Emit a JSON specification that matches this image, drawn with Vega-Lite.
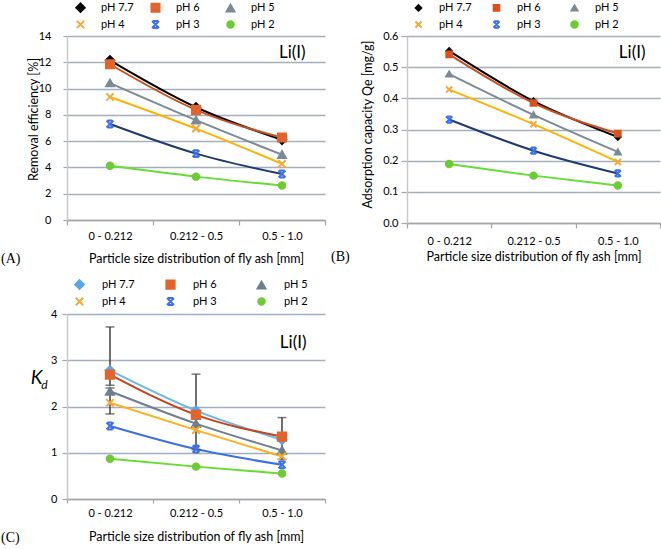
{
  "$schema": "https://vega.github.io/schema/vega-lite/v6.json",
  "padding": {"left": 1, "top": 2, "right": 0, "bottom": 0},
  "bounds": "flush",
  "columns": 2,
  "spacing": {"row": 91, "column": 82},
  "config": {
    "view": {"stroke": null},
    "font": "Lato",
    "axis": {"labelFont": "Lato", "titleFont": "Lato", "labelColor": "#000", "titleColor": "#000", "titleFontWeight": "normal", "labelFontSize": 11, "titleFontSize": 12.5, "tickColor": "#a6a6a6", "domainColor": "#a6a6a6", "gridColor": "#a3afbb", "gridWidth": 1.5, "domainWidth": 1.5, "tickWidth": 1.2},
    "legend": {"labelFont": "Lato", "labelFontSize": 11, "labelColor": "#000", "symbolStrokeWidth": 2, "gridAlign": "all", "orient": "none", "direction": "horizontal", "columns": 3, "title": null},
    "title": {"font": "Liberation Serif", "fontSize": 14, "fontWeight": "normal", "color": "#000"}
  },
  "datasets": {
    "A": [
      {"size": "0 - 0.212", "ph": "pH 7.7", "v": 12.15}, {"size": "0.212 - 0.5", "ph": "pH 7.7", "v": 8.58}, {"size": "0.5 - 1.0", "ph": "pH 7.7", "v": 6.1},
      {"size": "0 - 0.212", "ph": "pH 6", "v": 11.85}, {"size": "0.212 - 0.5", "ph": "pH 6", "v": 8.38}, {"size": "0.5 - 1.0", "ph": "pH 6", "v": 6.27},
      {"size": "0 - 0.212", "ph": "pH 5", "v": 10.42}, {"size": "0.212 - 0.5", "ph": "pH 5", "v": 7.6}, {"size": "0.5 - 1.0", "ph": "pH 5", "v": 4.97},
      {"size": "0 - 0.212", "ph": "pH 4", "v": 9.36}, {"size": "0.212 - 0.5", "ph": "pH 4", "v": 6.95}, {"size": "0.5 - 1.0", "ph": "pH 4", "v": 4.27},
      {"size": "0 - 0.212", "ph": "pH 3", "v": 7.3}, {"size": "0.212 - 0.5", "ph": "pH 3", "v": 5.05}, {"size": "0.5 - 1.0", "ph": "pH 3", "v": 3.5},
      {"size": "0 - 0.212", "ph": "pH 2", "v": 4.12}, {"size": "0.212 - 0.5", "ph": "pH 2", "v": 3.3}, {"size": "0.5 - 1.0", "ph": "pH 2", "v": 2.62}
    ],
    "B": [
      {"size": "0 - 0.212", "ph": "pH 7.7", "v": 0.552}, {"size": "0.212 - 0.5", "ph": "pH 7.7", "v": 0.391}, {"size": "0.5 - 1.0", "ph": "pH 7.7", "v": 0.276},
      {"size": "0 - 0.212", "ph": "pH 6", "v": 0.541}, {"size": "0.212 - 0.5", "ph": "pH 6", "v": 0.385}, {"size": "0.5 - 1.0", "ph": "pH 6", "v": 0.287},
      {"size": "0 - 0.212", "ph": "pH 5", "v": 0.478}, {"size": "0.212 - 0.5", "ph": "pH 5", "v": 0.347}, {"size": "0.5 - 1.0", "ph": "pH 5", "v": 0.228},
      {"size": "0 - 0.212", "ph": "pH 4", "v": 0.428}, {"size": "0.212 - 0.5", "ph": "pH 4", "v": 0.317}, {"size": "0.5 - 1.0", "ph": "pH 4", "v": 0.196},
      {"size": "0 - 0.212", "ph": "pH 3", "v": 0.332}, {"size": "0.212 - 0.5", "ph": "pH 3", "v": 0.232}, {"size": "0.5 - 1.0", "ph": "pH 3", "v": 0.159},
      {"size": "0 - 0.212", "ph": "pH 2", "v": 0.189}, {"size": "0.212 - 0.5", "ph": "pH 2", "v": 0.152}, {"size": "0.5 - 1.0", "ph": "pH 2", "v": 0.12}
    ],
    "C": [
      {"size": "0 - 0.212", "ph": "pH 7.7", "v": 2.78}, {"size": "0.212 - 0.5", "ph": "pH 7.7", "v": 1.91}, {"size": "0.5 - 1.0", "ph": "pH 7.7", "v": 1.28},
      {"size": "0 - 0.212", "ph": "pH 6", "v": 2.69}, {"size": "0.212 - 0.5", "ph": "pH 6", "v": 1.82}, {"size": "0.5 - 1.0", "ph": "pH 6", "v": 1.35},
      {"size": "0 - 0.212", "ph": "pH 5", "v": 2.33}, {"size": "0.212 - 0.5", "ph": "pH 5", "v": 1.63}, {"size": "0.5 - 1.0", "ph": "pH 5", "v": 1.05},
      {"size": "0 - 0.212", "ph": "pH 4", "v": 2.08}, {"size": "0.212 - 0.5", "ph": "pH 4", "v": 1.49}, {"size": "0.5 - 1.0", "ph": "pH 4", "v": 0.92},
      {"size": "0 - 0.212", "ph": "pH 3", "v": 1.58}, {"size": "0.212 - 0.5", "ph": "pH 3", "v": 1.08}, {"size": "0.5 - 1.0", "ph": "pH 3", "v": 0.74},
      {"size": "0 - 0.212", "ph": "pH 2", "v": 0.87}, {"size": "0.212 - 0.5", "ph": "pH 2", "v": 0.7}, {"size": "0.5 - 1.0", "ph": "pH 2", "v": 0.55}
    ],
    "errC": [
      {"size": "0 - 0.212", "lo": 2.46, "hi": 3.72},
      {"size": "0 - 0.212", "lo": 1.84, "hi": 2.4},
      {"size": "0.212 - 0.5", "lo": 1.07, "hi": 2.7},
      {"size": "0.5 - 1.0", "lo": 0.86, "hi": 1.76}
    ],
    "labA": [{"size": "0.5 - 1.0", "v": 12.7, "t": "Li(I)"}],
    "labB": [{"size": "0.5 - 1.0", "v": 0.545, "t": "Li(I)"}],
    "labC": [{"size": "0.5 - 1.0", "v": 3.38, "t": "Li(I)"}]
  },
  "resolve": {"scale": {"x": "independent", "y": "independent", "color": "independent", "fill": "independent", "stroke": "independent", "shape": "independent", "size": "independent"}, "legend": {"fill": "independent", "stroke": "independent", "shape": "independent", "size": "independent"}},
  "concat": [
    {
      "width": 258, "height": 184,
      "title": {"text": "(A)", "orient": "bottom", "anchor": "start", "frame": "group", "dx": -66, "dy": -13, "offset": 0},
      "data": {"name": "A"},
      "layer": [
        {
          "mark": {"type": "line", "interpolate": "monotone", "strokeWidth": 2},
          "encoding": {
            "x": {"field": "size", "type": "nominal", "sort": null, "scale": {"paddingInner": 0, "paddingOuter": 0}, "axis": {"title": "Particle size distribution of fly ash [mm]", "labelAngle": 0, "tickBand": "extent", "tickSize": 5, "labelPadding": 5, "titleY": 38, "titleBaseline": "middle", "titleFontSize": 12.5}},
            "y": {"field": "v", "type": "quantitative", "scale": {"domain": [0, 14]}, "axis": {"title": "Removal  efficiency  [%]", "format": "d", "values": [0, 2, 4, 6, 8, 10, 12, 14], "tickCount": 20, "tickSize": 4, "labelPadding": 12, "domainColor": "#c8c8c8", "titleX": -34, "titleY": 83, "titleBaseline": "middle"}},
            "color": {"field": "ph", "type": "nominal", "legend": null, "scale": {"domain": ["pH 2", "pH 3", "pH 4", "pH 5", "pH 6", "pH 7.7"], "range": ["#66dd33", "#1f3a70", "#ffb300", "#7d8a96", "#c9501e", "#000000"]}},
            "order": {"field": "ph", "sort": "ascending"}
          }
        },
        {
          "mark": {"type": "point", "opacity": 1, "strokeWidth": 2},
          "encoding": {
            "x": {"field": "size", "type": "nominal", "sort": null},
            "y": {"field": "v", "type": "quantitative"},
            "fill": {"field": "ph", "type": "nominal", "scale": {"domain": ["pH 7.7", "pH 6", "pH 5", "pH 4", "pH 3", "pH 2"], "range": ["#000000", "#e2642a", "#7a8a96", "#f2a93b", "#3b6ff0", "#6ccc33"]}, "legend": {"legendX": 8, "legendY": -34, "columnPadding": 13, "rowPadding": 0, "labelOffset": 15}},
            "stroke": {"field": "ph", "type": "nominal", "scale": {"domain": ["pH 7.7", "pH 6", "pH 5", "pH 4", "pH 3", "pH 2"], "range": ["#000000", "#e2642a", "#7a8a96", "#f2a93b", "#3b6ff0", "#6ccc33"]}, "legend": {"legendX": 8, "legendY": -34, "columnPadding": 13, "rowPadding": 0, "labelOffset": 15}},
            "shape": {"field": "ph", "type": "nominal", "scale": {"domain": ["pH 7.7", "pH 6", "pH 5", "pH 4", "pH 3", "pH 2"], "range": ["diamond", "square", "triangle-up", "M-1,-1L1,1M-1,1L1,-1", "M-1,-1L1,1M-1,1L1,-1M-0.7,-1L0.7,-1M-0.7,1L0.7,1", "circle"]}, "legend": {"legendX": 8, "legendY": -34, "columnPadding": 13, "rowPadding": 0, "labelOffset": 15}},
            "size": {"field": "ph", "type": "nominal", "scale": {"domain": ["pH 7.7", "pH 6", "pH 5", "pH 4", "pH 3", "pH 2"], "range": [70, 42, 32, 45, 45, 42]}, "legend": {"legendX": 8, "legendY": -34, "columnPadding": 13, "rowPadding": 0, "labelOffset": 15}}
          }
        },
        {
          "data": {"name": "labA"},
          "mark": {"type": "text", "fontSize": 17, "font": "Lato", "color": "#000"},
          "encoding": {
            "x": {"field": "size", "type": "nominal", "sort": null, "bandPosition": 0.62},
            "y": {"field": "v", "type": "quantitative"},
            "text": {"field": "t"}
          }
        }
      ]
    },
    {
      "width": 253, "height": 187,
      "title": {"text": "(B)", "orient": "bottom", "anchor": "start", "frame": "group", "dx": -76, "dy": -13, "offset": 0},
      "data": {"name": "B"},
      "layer": [
        {
          "mark": {"type": "line", "interpolate": "monotone", "strokeWidth": 2},
          "encoding": {
            "x": {"field": "size", "type": "nominal", "sort": null, "scale": {"paddingInner": 0, "paddingOuter": 0}, "axis": {"title": "Particle size distribution of fly ash [mm]", "labelAngle": 0, "tickBand": "extent", "tickSize": 5, "labelPadding": 7, "titleY": 33, "titleBaseline": "middle", "titleFontSize": 12.5}},
            "y": {"field": "v", "type": "quantitative", "scale": {"domain": [0, 0.6]}, "axis": {"title": "Adsorption  capacity  Qe  [mg/g]", "format": ".1f", "values": [0, 0.1, 0.2, 0.3, 0.4, 0.5, 0.6], "tickCount": 20, "tickSize": 6, "labelPadding": 3, "domainColor": "#c8c8c8", "titleX": -40, "titleY": 88, "titleBaseline": "middle"}},
            "color": {"field": "ph", "type": "nominal", "legend": null, "scale": {"domain": ["pH 2", "pH 3", "pH 4", "pH 5", "pH 6", "pH 7.7"], "range": ["#66dd33", "#1f3a70", "#ffb300", "#7d8a96", "#c9501e", "#000000"]}},
            "order": {"field": "ph", "sort": "ascending"}
          }
        },
        {
          "mark": {"type": "point", "opacity": 1, "strokeWidth": 2},
          "encoding": {
            "x": {"field": "size", "type": "nominal", "sort": null},
            "y": {"field": "v", "type": "quantitative"},
            "fill": {"field": "ph", "type": "nominal", "scale": {"domain": ["pH 7.7", "pH 6", "pH 5", "pH 4", "pH 3", "pH 2"], "range": ["#000000", "#d9521e", "#7a8a96", "#f2a93b", "#3b6ff0", "#6ccc33"]}, "legend": {"legendX": 6, "legendY": -34, "columnPadding": 17, "rowPadding": 2, "labelOffset": 15}},
            "stroke": {"field": "ph", "type": "nominal", "scale": {"domain": ["pH 7.7", "pH 6", "pH 5", "pH 4", "pH 3", "pH 2"], "range": ["#000000", "#d9521e", "#7a8a96", "#f2a93b", "#3b6ff0", "#6ccc33"]}, "legend": {"legendX": 6, "legendY": -34, "columnPadding": 17, "rowPadding": 2, "labelOffset": 15}},
            "shape": {"field": "ph", "type": "nominal", "scale": {"domain": ["pH 7.7", "pH 6", "pH 5", "pH 4", "pH 3", "pH 2"], "range": ["diamond", "square", "triangle-up", "M-1,-1L1,1M-1,1L1,-1", "M-1,-1L1,1M-1,1L1,-1M-0.7,-1L0.7,-1M-0.7,1L0.7,1", "circle"]}, "legend": {"legendX": 6, "legendY": -34, "columnPadding": 17, "rowPadding": 2, "labelOffset": 15}},
            "size": {"field": "ph", "type": "nominal", "scale": {"domain": ["pH 7.7", "pH 6", "pH 5", "pH 4", "pH 3", "pH 2"], "range": [30, 42, 32, 45, 45, 42]}, "legend": {"legendX": 6, "legendY": -34, "columnPadding": 17, "rowPadding": 2, "labelOffset": 15}}
          }
        },
        {
          "data": {"name": "labB"},
          "mark": {"type": "text", "fontSize": 17, "font": "Lato", "color": "#000"},
          "encoding": {
            "x": {"field": "size", "type": "nominal", "sort": null, "bandPosition": 0.67},
            "y": {"field": "v", "type": "quantitative"},
            "text": {"field": "t"}
          }
        }
      ]
    },
    {
      "width": 258, "height": 185,
      "title": {"text": "(C)", "orient": "bottom", "anchor": "start", "frame": "group", "dx": -66, "dy": -12, "offset": 0},
      "data": {"name": "C"},
      "resolve": {"axis": {"y": "independent"}},
      "layer": [
        {
          "mark": {"type": "line", "interpolate": "monotone", "strokeWidth": 2},
          "encoding": {
            "x": {"field": "size", "type": "nominal", "sort": null, "scale": {"paddingInner": 0, "paddingOuter": 0}, "axis": {"title": "Particle size distribution of fly ash [mm]", "labelAngle": 0, "tickBand": "extent", "tickSize": 4, "labelPadding": 4, "titleY": 37, "titleBaseline": "middle", "titleFontSize": 12.5}},
            "y": {"field": "v", "type": "quantitative", "scale": {"domain": [0, 4]}, "axis": {"title": "K", "titleFontStyle": "italic", "titleFontSize": 19, "titleAngle": 0, "titleAlign": "center", "format": "d", "values": [0, 1, 2, 3, 4], "tickCount": 20, "tickSize": 5, "labelPadding": 5, "domainColor": "#c8c8c8", "gridColor": "#9fb0c3", "titleX": -31, "titleY": 63, "titleBaseline": "middle"}},
            "color": {"field": "ph", "type": "nominal", "legend": null, "scale": {"domain": ["pH 2", "pH 3", "pH 4", "pH 5", "pH 6", "pH 7.7"], "range": ["#66dd33", "#3a70e0", "#ffb020", "#6e7f8f", "#c8401c", "#6ab8e8"]}},
            "order": {"field": "ph", "sort": "ascending"}
          }
        },
        {
          "data": {"name": "errC"},
          "mark": {"type": "rule", "color": "#404040", "strokeWidth": 1.5},
          "encoding": {
            "x": {"field": "size", "type": "nominal", "sort": null},
            "y": {"field": "lo", "type": "quantitative", "axis": null},
            "y2": {"field": "hi"}
          }
        },
        {
          "data": {"name": "errC"},
          "mark": {"type": "tick", "color": "#404040", "size": 9, "thickness": 1.5},
          "encoding": {
            "x": {"field": "size", "type": "nominal", "sort": null},
            "y": {"field": "hi", "type": "quantitative", "axis": null}
          }
        },
        {
          "data": {"name": "errC"},
          "mark": {"type": "tick", "color": "#404040", "size": 9, "thickness": 1.5},
          "encoding": {
            "x": {"field": "size", "type": "nominal", "sort": null},
            "y": {"field": "lo", "type": "quantitative", "axis": null}
          }
        },
        {
          "mark": {"type": "point", "opacity": 1, "strokeWidth": 2},
          "encoding": {
            "x": {"field": "size", "type": "nominal", "sort": null},
            "y": {"field": "v", "type": "quantitative", "axis": null},
            "fill": {"field": "ph", "type": "nominal", "scale": {"domain": ["pH 7.7", "pH 6", "pH 5", "pH 4", "pH 3", "pH 2"], "range": ["#5ba6ea", "#e2642a", "#6e7e8c", "#f2a93b", "#3b6ff0", "#6ccc33"]}, "legend": {"legendX": 7, "legendY": -35, "columnPadding": 27, "rowPadding": 0, "labelOffset": 17}},
            "stroke": {"field": "ph", "type": "nominal", "scale": {"domain": ["pH 7.7", "pH 6", "pH 5", "pH 4", "pH 3", "pH 2"], "range": ["#5ba6ea", "#e2642a", "#6e7e8c", "#f2a93b", "#3b6ff0", "#6ccc33"]}, "legend": {"legendX": 7, "legendY": -35, "columnPadding": 27, "rowPadding": 0, "labelOffset": 17}},
            "shape": {"field": "ph", "type": "nominal", "scale": {"domain": ["pH 7.7", "pH 6", "pH 5", "pH 4", "pH 3", "pH 2"], "range": ["diamond", "square", "triangle-up", "M-1,-1L1,1M-1,1L1,-1", "M-1,-1L1,1M-1,1L1,-1M-0.7,-1L0.7,-1M-0.7,1L0.7,1", "circle"]}, "legend": {"legendX": 7, "legendY": -35, "columnPadding": 27, "rowPadding": 0, "labelOffset": 17}},
            "size": {"field": "ph", "type": "nominal", "scale": {"domain": ["pH 7.7", "pH 6", "pH 5", "pH 4", "pH 3", "pH 2"], "range": [75, 42, 32, 40, 40, 42]}, "legend": {"legendX": 7, "legendY": -35, "columnPadding": 27, "rowPadding": 0, "labelOffset": 17}}
          }
        },
        {
          "data": {"name": "labC"},
          "mark": {"type": "text", "fontSize": 17, "font": "Lato", "color": "#000"},
          "encoding": {
            "x": {"field": "size", "type": "nominal", "sort": null, "bandPosition": 0.63},
            "y": {"field": "v", "type": "quantitative", "axis": {"orient": "right", "title": "d", "titleFontStyle": "italic", "titleFontSize": 12, "labels": false, "ticks": false, "domain": false, "grid": false, "titleX": -281, "titleY": 70, "titleBaseline": "middle", "titleAlign": "center", "titleAngle": 0}},
            "text": {"field": "t"}
          }
        }
      ]
    }
  ]
}
